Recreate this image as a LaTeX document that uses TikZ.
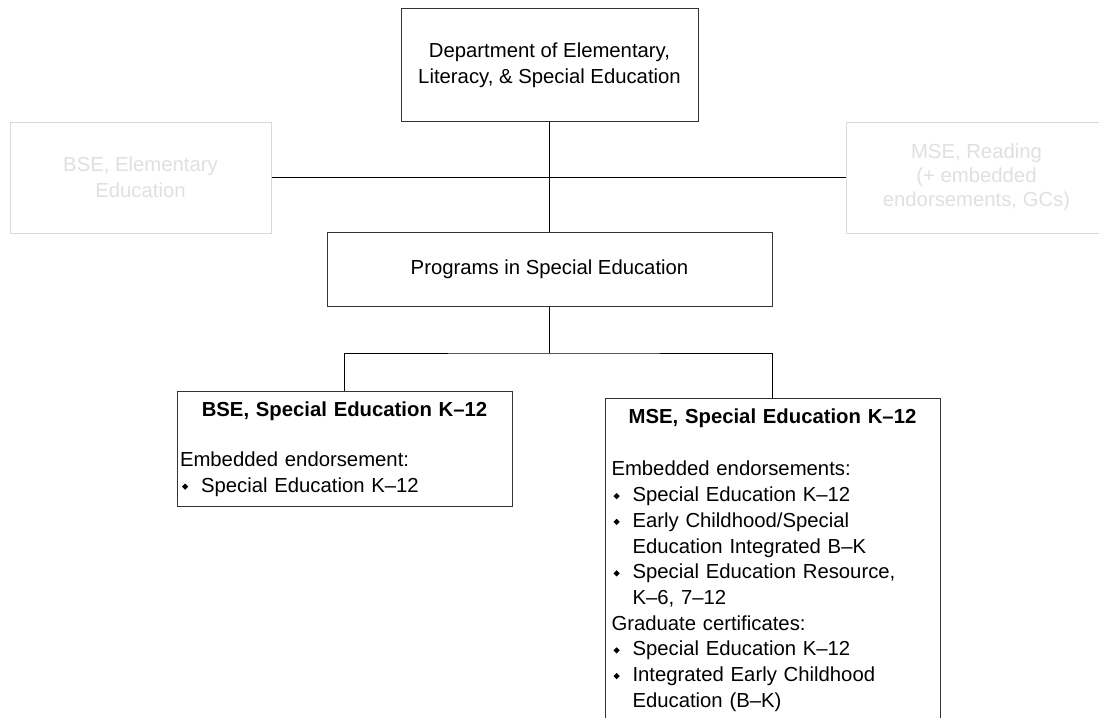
\documentclass[tikz,border=0pt]{standalone}
\usepackage{graphicx}
\usepackage{fontspec}
\setmainfont{Liberation Sans}

\newcommand{\itm}{\makebox[21pt][l]{\hspace{2pt}\raisebox{2.3pt}{\rotatebox{45}{\rule{4.4pt}{4.4pt}}}}}
\newcommand{\cnt}{\hspace*{21pt}}

\begin{document}
\begin{tikzpicture}[
x=1pt, y=-1pt,
every node/.style={font=\fontsize{20.3}{25.7}\selectfont},
unit/.style={rectangle, draw=black!80, line width=1pt, inner sep=0pt, align=center},
faded/.style={rectangle, draw=black!15, text=black!12, line width=1pt, inner sep=0pt, align=center, minimum width=261, minimum height=111},
program/.style={rectangle, draw=black!80, line width=1pt, inner ysep=10pt, align=left, anchor=north},
link/.style={line width=1pt, black},
]
\useasboundingbox[fill=white] (0,0) rectangle (1099,717);

\node[unit, minimum width=297, minimum height=112] (D) at (549.5,65) {Department of Elementary,\\Literacy, \& Special Education};
\node[faded] (E) at (140.5,177.5) {BSE, Elementary\\Education};
\node[faded, font=\fontsize{20.3}{24}\selectfont] (R) at (976.5,177.5) {MSE, Reading\\(+ embedded\\endorsements, GCs)};
\node[unit, minimum width=445, minimum height=74] (P) at (549.5,269.5) {Programs in Special Education};

\node[program, inner xsep=3pt, text width=329] (B) at (344.5,391) {%
\makebox[\linewidth]{\textbf{BSE, Special Education K–12}}\\[24.5pt]
Embedded endorsement:\\
\itm Special Education K–12};

\node[program, inner xsep=6.5pt, text width=322] (M) at (772.5,398) {%
\makebox[\linewidth]{\textbf{MSE, Special Education K–12}}\\[27pt]
Embedded endorsements:\\
\itm Special Education K–12\\
\itm Early Childhood/Special\\
\cnt Education Integrated B–K\\
\itm Special Education Resource,\\
\cnt K–6, 7–12\\
Graduate certificates:\\
\itm Special Education K–12\\
\itm Integrated Early Childhood\\
\cnt Education (B–K)\\[12pt]
\mbox{}};

% connectors
\draw[link] (D) -- (P);
\draw[link] (E) -- (R);
\coordinate (J) at (549.5,353);
\draw[link] (P) -- (J);
\draw[link] (B.north) |- (J) -| (M.north);
\end{tikzpicture}
\end{document}
